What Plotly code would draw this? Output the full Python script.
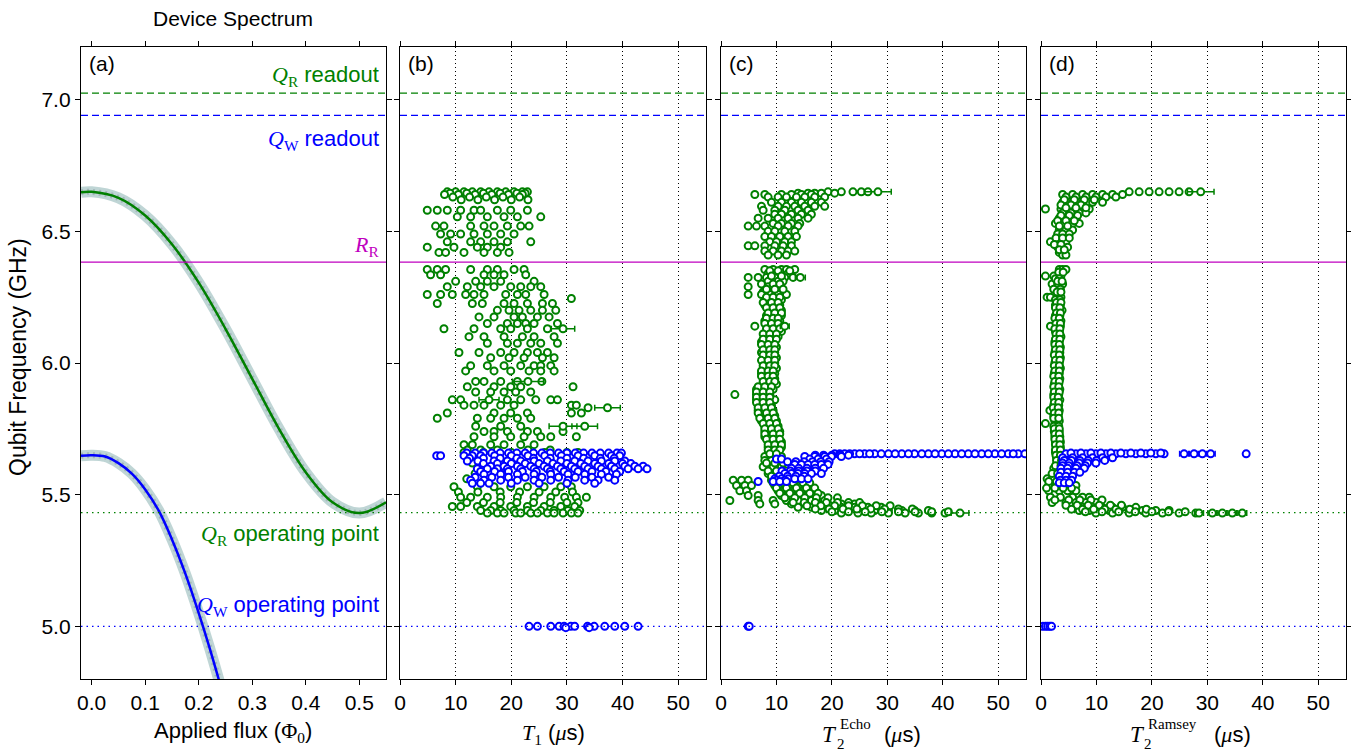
import plotly.graph_objects as go

# ---------------- reference frequencies (GHz) ----------------
QR_READOUT = 7.025
QW_READOUT = 6.94
RR_FREQ = 6.383
QR_OPERATING = 5.432
QW_OPERATING = 5.0

# ---------------- panel (a): spectrum vs flux ----------------
flux_R = [-0.02, 0.0, 0.05, 0.10, 0.15, 0.20, 0.25, 0.30, 0.35, 0.40, 0.45, 0.50, 0.55]
freq_R = [6.648, 6.650, 6.627, 6.560, 6.451, 6.305, 6.130, 5.940, 5.750, 5.585, 5.471, 5.430, 5.471]
flux_W = [-0.02, 0.0, 0.025, 0.05, 0.075, 0.10, 0.125, 0.15, 0.175, 0.20, 0.22, 0.24]
freq_W = [5.648, 5.650, 5.645, 5.620, 5.580, 5.520, 5.440, 5.330, 5.200, 5.050, 4.920, 4.780]

# ---------------- panel (b): T1 (us) ----------------
t1_R_freq = [6.650, 6.645, 6.640, 6.630, 6.620, 6.580, 6.555, 6.520, 6.490, 6.460, 6.440, 6.420,
             6.355, 6.335, 6.310, 6.290, 6.260, 6.245, 6.226, 6.200, 6.175, 6.150, 6.130, 6.100,
             6.075, 6.040, 6.020, 5.990, 5.970, 5.930, 5.910, 5.890, 5.860, 5.840, 5.830, 5.810,
             5.790, 5.760, 5.740, 5.720, 5.690, 5.670, 5.660, 5.620, 5.580, 5.560, 5.530, 5.510,
             5.490, 5.470, 5.455, 5.440, 5.430]
t1_R_vals = [
    [8.5, 10.0, 11.5, 13.0, 14.5, 16.0, 17.5, 19.0, 20.5, 22.0, 22.9],
    [9.0, 12.0, 15.0, 18.0, 21.0, 22.5],
    [8.0, 10.5, 13.5, 16.5, 19.5, 22.0],
    [9.5, 12.5, 15.5, 18.5, 21.5],
    [11.0, 14.0, 17.0, 20.0, 23.0],
    [4.9, 6.7, 8.5, 10.9, 13.3, 14.5, 17.5, 19.9, 22.9],
    [10.3, 12.7, 15.7, 18.7, 21.1, 25.3],
    [6.4, 7.9, 12.7, 15.1, 16.9, 19.3, 21.7, 23.2],
    [7.3, 9.1, 10.9, 13.3, 15.7, 18.1, 20.5],
    [8.5, 12.7, 14.5, 16.9, 19.3, 23.5],
    [4.9, 9.7, 13.9, 15.7, 18.1],
    [7.0, 8.2, 11.5, 15.1, 17.5, 19.6],
    [4.9, 6.7, 8.2, 12.7, 15.7, 17.5, 20.5, 22.3],
    [5.5, 7.3, 15.1, 16.9, 18.7, 22.6],
    [10.0, 13.6, 15.7, 18.1, 24.1],
    [8.5, 12.1, 14.5, 16.9, 19.9, 21.7, 23.5, 25.3],
    [4.9, 7.3, 9.4, 11.8, 13.3, 15.1, 19.0, 21.1, 22.6, 25.9],
    [30.8],
    [6.7, 13.0, 14.8, 18.7, 20.5, 22.9, 25.6, 27.4],
    [17.5, 19.6, 21.4, 23.5, 25.6, 28.0],
    [14.2, 16.9, 20.5, 22.0, 24.7, 26.8],
    [15.7, 19.3, 21.1, 22.6, 24.1, 28.3],
    [7.9, 13.3, 18.1, 19.9, 22.9, 26.5],
    [12.4, 15.1, 18.7, 22.0, 24.1, 27.7],
    [15.7, 19.3, 21.1, 23.5, 25.3, 28.3],
    [10.6, 14.2, 18.1, 20.5, 22.9, 24.7, 26.5],
    [16.3, 19.6, 22.3, 25.6, 27.7],
    [12.7, 15.7, 18.7, 21.7, 24.1, 25.3, 27.1],
    [11.8, 16.9, 19.9, 23.2, 25.3, 27.7],
    [13.6, 15.1, 18.1, 21.1, 25.5],
    [12.1, 16.9, 19.9, 21.7, 31.1],
    [13.6, 16.3, 18.7, 20.8, 23.5],
    [9.4, 10.9, 19.3, 21.7, 24.4, 27.1, 28.3],
    [11.5, 13.3, 15.1, 18.1, 20.5, 30.8, 31.7],
    [33.8],
    [8.5, 16.9, 19.9, 22.9, 30.8, 32.6],
    [6.7, 13.9, 16.3, 18.7, 21.1, 23.5],
    [13.6, 18.1, 21.7],
    [15.1, 16.9, 19.3, 22.9, 24.7, 29.3],
    [13.3, 16.9, 19.9, 22.3, 25.3, 27.1, 31.7],
    [11.5, 13.0, 16.3, 18.7, 21.7, 24.1],
    [12.1, 14.5, 17.5, 23.0, 27.0],
    [11.5, 15.0, 20.0, 26.0, 30.0, 32.0],
    [13.0, 14.5],
    [13.5, 15.0],
    [12.0],
    [9.7, 13.9, 16.9, 19.9, 22.9, 25.9, 28.9, 30.8],
    [10.5, 14.0, 18.0, 21.5, 25.0, 28.0, 31.0],
    [10.9, 12.7, 15.7, 18.1, 21.1, 24.1, 27.1, 29.6, 31.7, 33.5],
    [12.0, 15.0, 18.0, 21.0, 24.0, 27.0, 30.0, 32.0],
    [9.4, 10.9, 13.9, 16.9, 19.9, 22.9, 25.9, 28.9, 31.4],
    [14.5, 16.3, 18.1, 20.5, 22.9, 25.3, 27.7, 30.2, 32.3],
    [15.7, 17.5, 18.7, 20.8, 21.7, 23.5, 24.7, 26.5, 27.7, 29.3, 30.8, 32.0],
]
t1_R_err_freq = [6.130, 5.930, 5.860, 5.830, 5.760, 5.760]
t1_R_err_val = [29.3, 23.0, 16.0, 37.3, 29.3, 33.2]
t1_R_err = [2.1, 2.8, 1.8, 2.3, 2.5, 2.3]

t1_W_freq = [5.658, 5.648, 5.638, 5.628, 5.618, 5.608, 5.598, 5.588, 5.578, 5.566, 5.555, 5.543,
             5.000, 4.995]
t1_W_vals = [
    [12.0, 13.5, 15.0, 16.5, 18.0, 19.5, 21.0, 22.5, 24.0, 25.5, 27.0, 28.5, 30.0, 31.5, 33.0, 34.5, 36.0, 37.5, 39.0, 39.8],
    [6.6, 7.3, 11.5, 13.0, 14.5, 17.0, 20.0, 23.0, 26.0, 29.0, 32.0, 35.0, 38.0, 39.5],
    [12.5, 15.0, 18.0, 21.0, 24.0, 27.0, 30.0, 33.0, 36.0, 38.5],
    [12.1, 14.0, 16.9, 19.3, 21.7, 24.1, 26.5, 28.9, 31.4, 33.8, 36.2, 38.6, 40.4],
    [15.0, 17.5, 20.0, 22.5, 25.0, 27.5, 30.0, 32.5, 35.0, 37.5, 40.0, 41.5],
    [16.3, 18.7, 21.1, 23.5, 25.9, 28.3, 30.8, 33.2, 35.6, 38.0, 40.4, 42.2, 43.7],
    [13.9, 15.7, 17.5, 19.3, 21.7, 24.1, 26.5, 28.9, 31.4, 33.8, 36.2, 38.6, 41.0, 42.8, 44.4],
    [14.5, 17.0, 19.5, 22.0, 24.5, 27.0, 29.5, 32.0, 34.5, 37.0, 39.5],
    [15.1, 18.1, 21.1, 24.1, 27.1, 30.2, 33.2, 36.2, 38.9],
    [13.5, 16.5, 19.5, 22.5, 25.5, 28.5, 31.5, 34.5, 37.5],
    [12.7, 15.1, 18.1, 21.1, 24.1, 27.1, 30.2, 33.2, 35.6, 38.6],
    [13.0, 14.5, 16.0, 20.0, 25.0, 30.0, 35.0],
    [23.2, 24.7, 27.1, 28.6, 29.5, 30.7, 31.4, 33.7, 34.9, 36.8, 38.6, 40.4, 42.8],
    [29.8, 34.0],
]

# ---------------- panel (c): T2 Echo (us) ----------------
t2e_R_freq = [6.650, 6.645, 6.640, 6.630, 6.610, 6.595, 6.580, 6.565, 6.550, 6.530, 6.520, 6.500,
              6.480, 6.460, 6.445, 6.425, 6.410, 6.355, 6.340, 6.325, 6.310, 6.290, 6.270, 6.260,
              6.240, 6.220, 6.200, 6.180, 6.160, 6.140, 6.120, 6.100, 6.080, 6.060, 6.040, 6.020,
              6.000, 5.980, 5.960, 5.940, 5.920, 5.900, 5.880, 5.860, 5.840, 5.820, 5.800, 5.780,
              5.760, 5.740, 5.720, 5.700, 5.680, 5.660, 5.645, 5.630, 5.606, 5.580, 5.555, 5.535,
              5.515, 5.497, 5.478, 5.465, 5.452, 5.440, 5.430,
              6.350, 6.330, 6.300, 6.280, 6.250, 6.230, 6.210, 6.190, 6.170, 6.150, 6.130, 6.110,
              6.090, 6.070, 6.050, 6.030, 6.010, 5.990, 5.970, 5.950, 5.930, 5.910, 5.890, 5.870,
              5.850, 5.830, 5.810, 5.790, 5.770, 5.750, 5.730, 5.710, 5.690, 5.670, 5.655, 5.620,
              5.590, 5.570, 5.545, 5.525, 5.505, 5.488, 5.470, 5.458, 5.446, 5.435]
t2e_R_vals = [
    [19.3, 21.7, 23.8, 25.3, 26.5],
    [13.9, 15.7, 16.9, 18.1, 20.5],
    [6.1, 7.9, 10.9, 12.7, 14.5, 16.3],
    [8.5, 10.3, 11.8, 13.6, 15.1, 16.9, 18.7],
    [9.1, 10.9, 12.7, 14.5, 16.3, 18.1],
    [7.3, 10.3, 11.8, 13.3, 15.1, 16.9, 18.7],
    [7.6, 9.7, 11.5, 13.9, 15.7],
    [9.7, 10.9, 12.7, 14.5, 16.3],
    [6.7, 8.5, 10.3, 12.1, 13.9, 15.7],
    [9.4, 10.9, 12.7, 14.2],
    [4.9, 6.4, 7.9, 10.3, 12.1, 13.9],
    [8.5, 9.7, 11.5, 13.3],
    [7.9, 9.1, 10.6, 12.1, 13.6],
    [8.8, 10.0, 11.5, 12.7],
    [4.9, 6.1, 7.9, 9.7, 11.2, 12.7],
    [7.9, 9.4, 10.9, 12.1, 13.3],
    [8.5, 10.3, 11.8],
    [7.9, 9.4, 10.9, 11.8, 13.3],
    [8.5, 10.3, 12.1],
    [4.9, 6.7, 8.2, 9.7, 11.5, 13.0],
    [8.5, 10.3, 11.2],
    [4.9, 8.5, 10.3],
    [7.6, 9.4, 10.9],
    [4.9, 7.3, 8.8, 10.3, 11.8],
    [8.5, 9.7, 10.9],
    [7.9, 9.4, 10.6],
    [8.8, 10.0, 10.9],
    [8.2, 9.7, 10.9],
    [7.9, 9.1, 10.6],
    [6.1, 8.5, 10.0],
    [8.5, 9.7, 10.9],
    [7.9, 9.1, 10.3],
    [7.3, 8.5, 9.7],
    [7.6, 8.8, 10.0],
    [7.3, 8.5, 9.7],
    [7.9, 9.1, 10.0],
    [7.6, 8.5, 9.7],
    [7.9, 9.1, 10.0],
    [7.3, 8.5, 9.7],
    [7.6, 8.8, 9.7],
    [7.9, 9.1, 10.0],
    [6.4, 7.3, 8.5, 9.4],
    [2.5, 6.4, 7.6, 8.8],
    [6.4, 7.3, 8.5, 9.7],
    [6.7, 7.9, 9.1],
    [6.7, 7.9, 9.4],
    [7.0, 8.5, 9.7],
    [7.3, 8.8, 10.0],
    [7.9, 9.1, 10.3],
    [7.9, 9.4, 10.6],
    [7.9, 9.1, 10.3],
    [8.5, 9.7, 10.9],
    [8.5, 10.0, 10.9],
    [8.8, 10.3],
    [7.9, 9.4, 10.9],
    [7.9, 9.1, 10.9],
    [7.6, 9.4, 10.9, 12.1],
    [8.5, 10.0, 11.5, 13.3],
    [2.2, 3.7, 4.9, 9.1, 10.9, 12.7, 14.5],
    [2.8, 4.3, 5.5, 9.7, 11.5, 13.3, 15.1],
    [3.4, 4.6, 10.3, 12.1, 13.9, 15.7],
    [4.9, 6.7, 10.9, 12.7, 14.5, 16.3, 18.1],
    [1.6, 6.7, 9.4, 11.8, 13.9, 16.3, 18.7],
    [7.0, 9.7, 12.7, 15.1, 17.5, 19.3, 21.7, 24.1],
    [13.9, 16.3, 18.7, 21.7, 24.1, 26.5, 28.9],
    [18.1, 20.5, 22.9, 25.3, 27.7, 30.2, 32.6, 34.9, 37.4],
    [21.7, 24.7, 27.1, 30.2, 33.2, 35.6, 38.0, 40.4],
    [8.8, 10.3, 12.4], [9.1, 10.9], [7.3, 9.4, 10.6], [8.2, 9.7, 11.2], [8.2, 9.4, 10.6],
    [7.6, 9.1, 10.3], [8.2, 9.4, 10.6], [8.5, 9.7, 10.9], [8.2, 9.4, 10.3], [7.9, 9.1, 10.3],
    [8.2, 9.4, 10.6], [7.6, 8.8, 10.0], [7.6, 8.8, 10.0], [7.3, 8.5, 9.7], [7.6, 8.8, 9.7],
    [7.6, 8.8, 9.7], [7.3, 8.5, 9.7], [7.6, 8.8, 9.7], [7.3, 8.5, 9.4], [7.3, 8.5, 9.4],
    [7.6, 8.8, 9.7], [6.7, 7.9, 9.1], [6.4, 7.6, 8.8], [6.4, 7.6, 8.8], [6.4, 7.6, 8.8],
    [6.7, 7.9, 9.1], [6.7, 8.2, 9.4], [7.0, 8.5, 9.7], [7.6, 8.8, 10.0], [7.9, 9.1, 10.3],
    [7.9, 9.4, 10.6], [8.2, 9.4, 10.6], [8.5, 9.7, 10.9], [8.5, 9.7, 10.6], [8.8, 10.0],
    [8.2, 9.7, 11.2], [8.5, 10.0, 11.8, 13.0], [9.1, 10.6, 12.4, 14.2],
    [9.4, 11.2, 13.0, 14.8, 16.0], [10.0, 11.8, 13.6, 15.4, 16.9], [10.6, 12.4, 14.2, 16.0, 17.5],
    [11.5, 13.3, 15.1, 17.2, 19.3, 21.0], [13.0, 15.0, 17.0, 19.0, 21.0, 23.0, 25.0],
    [15.5, 18.0, 20.5, 23.0, 25.5, 28.0, 30.5], [17.0, 19.5, 22.0, 24.5, 27.0, 29.5, 32.0, 34.5],
    [20.0, 23.0, 26.0, 29.0, 32.0, 35.0, 38.0, 41.0],
]
t2e_R_err_freq = [6.650, 6.325, 6.140, 5.430]
t2e_R_err_val = [28.3, 14.3, 11.5, 43.1]
t2e_R_err = [2.4, 0.9, 0.8, 1.6]

t2e_W_freq = [5.655, 5.655, 5.650, 5.645, 5.635, 5.625, 5.615, 5.600, 5.590, 5.580, 5.570, 5.560,
              5.555, 5.550, 5.000]
t2e_W_vals = [
    [20.5, 22.3, 24.1, 25.9, 27.7, 30.2, 32.6, 34.9, 37.4, 39.8, 42.2, 44.6, 47.0, 49.4, 51.8, 53.6, 54.8],
    [21.4, 23.2, 25.0, 26.8, 28.9, 31.4, 33.8, 36.2, 38.6, 41.0, 43.4, 45.8, 48.2, 50.6, 52.7],
    [17.0, 18.5, 20.0, 21.5, 23.0],
    [15.1, 16.9, 18.7, 19.9, 21.7],
    [10.0, 10.9, 16.0, 17.5, 19.0],
    [12.0, 13.5, 15.0, 16.5, 18.0, 19.5],
    [13.3, 14.5, 15.7, 16.9, 18.1, 19.3],
    [12.7, 14.0, 15.5, 17.0, 18.5],
    [11.0, 12.5, 14.0, 15.5, 17.0],
    [11.5, 12.7, 13.9, 15.1, 16.3, 18.1],
    [10.5, 12.0, 13.5, 15.0],
    [9.7, 10.9, 12.1, 13.3, 14.5, 15.7],
    [10.0, 11.5],
    [6.7, 9.4, 10.6, 11.8],
    [4.9, 5.1],
]

# ---------------- panel (d): T2 Ramsey (us) ----------------
t2r_R_freq = [6.650, 6.640, 6.630, 6.610, 6.585, 6.570, 6.550, 6.530, 6.505, 6.490, 6.460, 6.440,
              6.420, 6.410, 6.355, 6.330, 6.300, 6.250, 6.220, 6.200, 6.180, 6.160, 6.140, 6.120,
              6.100, 6.080, 6.060, 6.040, 6.020, 6.000, 5.980, 5.960, 5.940, 5.920, 5.900, 5.880,
              5.860, 5.840, 5.820, 5.800, 5.780, 5.770, 5.760, 5.740, 5.720, 5.700, 5.680, 5.660,
              5.640, 5.620, 5.600, 5.560, 5.535, 5.515, 5.490, 5.470, 5.452, 5.440, 5.430,
              6.620, 6.600, 6.590, 6.560, 6.540, 6.520, 6.475, 6.450, 6.430, 6.345, 6.320, 6.310,
              6.280, 6.270, 6.240, 6.230, 6.210, 6.190, 6.170, 6.150, 6.130, 6.110, 6.090, 6.070,
              6.050, 6.030, 6.010, 5.990, 5.970, 5.950, 5.930, 5.910, 5.890, 5.870, 5.850, 5.830,
              5.810, 5.790, 5.750, 5.730, 5.710, 5.690, 5.670, 5.650, 5.630, 5.610, 5.580, 5.550,
              5.525, 5.480, 5.460, 5.445, 5.435]
t2r_R_vals = [
    [15.9, 17.7, 19.5, 21.3, 23.1, 24.9, 26.7],
    [3.9, 5.7, 7.5, 9.3, 11.1, 12.9, 14.7],
    [4.5, 6.3, 8.1, 9.9, 11.7, 13.5],
    [3.9, 5.7, 7.5, 9.3, 11.1],
    [0.8, 3.6, 5.1, 6.9, 8.7],
    [3.9, 5.4, 6.9, 8.1],
    [3.3, 4.8, 6.3],
    [2.6, 4.2, 5.7, 6.9],
    [3.3, 4.5, 5.7],
    [3.0, 3.9, 5.1],
    [1.7, 3.3, 4.5],
    [3.0, 3.9, 4.8],
    [3.3, 4.2],
    [3.9, 4.5],
    [3.3, 3.9, 4.5],
    [0.8, 2.3, 3.6],
    [2.0, 3.0, 3.9],
    [1.1, 1.7, 3.0, 3.6],
    [2.6, 3.5], [2.9, 3.8], [2.6, 3.4], [2.8, 3.6], [1.7, 2.9, 3.5], [2.6, 3.3],
    [2.8, 3.6], [2.5, 3.3], [2.7, 3.5], [2.5, 3.4], [2.7, 3.5], [2.5, 3.3],
    [2.6, 3.5], [2.4, 3.3], [2.6, 3.4], [2.4, 3.2], [2.6, 3.4], [2.3, 3.2],
    [2.5, 3.4], [2.3, 3.2], [1.6, 2.5, 3.3], [2.3, 3.1], [2.5, 3.3], [0.8],
    [2.3, 3.2], [2.4, 3.3], [2.5, 3.4], [2.6, 3.5], [2.7, 3.5], [2.6, 3.4],
    [2.8, 3.6], [2.9, 3.8], [2.3, 3.5],
    [1.1, 2.0, 3.3, 4.5],
    [1.4, 2.6, 3.9, 5.1, 6.3],
    [1.4, 3.3, 4.8, 6.3],
    [1.7, 3.5, 5.7, 7.5, 8.7],
    [2.0, 4.5, 6.3, 8.1, 9.9],
    [6.3, 7.5, 9.3, 11.1, 12.9, 14.7, 17.1],
    [6.9, 8.7, 10.5, 12.3, 14.1, 15.9, 18.3, 20.7, 23.1],
    [9.9, 12.9, 15.9, 18.9, 21.9, 24.9, 27.9],
    [4.2, 6.0, 7.8, 9.6], [3.6, 5.4, 7.2], [4.5, 6.3, 8.1], [3.6, 5.1, 6.6], [3.0, 4.5, 6.0],
    [3.3, 4.8], [2.7, 3.9, 5.1], [2.4, 3.6], [3.3, 4.2], [3.2, 4.0], [2.6, 3.3], [3.0, 3.8],
    [2.3, 3.5], [2.9, 3.6], [2.6, 3.4], [2.8, 3.6], [2.6, 3.4], [2.8, 3.5], [2.5, 3.3],
    [2.7, 3.5], [2.5, 3.4], [2.7, 3.4], [2.6, 3.4], [2.5, 3.3], [2.6, 3.4], [2.4, 3.3],
    [2.6, 3.4], [2.4, 3.3], [2.5, 3.3], [2.3, 3.2], [2.5, 3.3], [2.3, 3.2], [2.4, 3.3],
    [2.3, 3.1], [2.4, 3.2], [2.2, 3.1], [2.4, 3.2], [2.3, 3.2], [2.4, 3.3], [2.5, 3.3],
    [2.5, 3.4], [2.6, 3.4], [2.6, 3.5], [2.7, 3.5], [2.8, 3.7], [2.6, 3.6], [2.0, 3.0, 4.0],
    [1.4, 2.8, 4.0], [1.0, 2.5, 4.0, 5.5], [2.5, 5.0, 7.0, 9.0, 11.0],
    [4.5, 6.5, 8.5, 10.5, 12.5, 14.5], [5.5, 7.5, 9.5, 11.5, 13.5, 16.0, 19.0],
    [8.0, 11.0, 14.0, 17.0, 20.0, 23.0, 26.0],
]
t2r_R_err_freq = [6.650, 5.430, 5.430, 5.430, 5.430, 5.430]
t2r_R_err_val = [28.8, 28.5, 30.9, 32.7, 34.5, 36.3]
t2r_R_err = [2.4, 0.8, 0.8, 0.8, 0.8, 0.8]

t2r_W_freq = [5.655, 5.658, 5.640, 5.630, 5.620, 5.610, 5.600, 5.585, 5.570, 5.555, 5.545, 5.000]
t2r_W_vals = [
    [4.5, 6.3, 8.1, 9.9, 11.7, 13.5, 15.3, 17.1, 18.9, 20.7, 22.2],
    [5.4, 7.2, 9.0, 10.8, 12.6, 14.4, 16.2, 18.0, 19.8, 21.6],
    [3.9, 5.7, 7.5, 9.3, 11.1, 12.9],
    [4.2, 5.5, 7.0, 8.5, 10.0, 11.5],
    [3.9, 5.1, 6.9, 8.4, 9.9],
    [3.9, 5.0, 6.5, 8.0],
    [3.6, 4.8, 6.3, 7.8],
    [3.6, 4.8, 6.0, 7.0],
    [3.3, 4.5, 5.7],
    [3.5, 4.5, 5.5],
    [3.3, 4.2, 5.1],
    [0.3, 0.8, 1.2, 1.6, 1.9],
]
t2r_W_err_freq = [5.655, 5.655, 5.655, 5.655, 5.655]
t2r_W_err_val = [25.8, 27.6, 29.1, 30.6, 37.0]
t2r_W_err = [0.8, 0.8, 1.0, 0.8, 0.4]

x_ticks_flux = [0.0, 0.1, 0.2, 0.3, 0.4, 0.5]
x_ticks_time = [0, 10, 20, 30, 40, 50]
y_ticks = [5.0, 5.5, 6.0, 6.5, 7.0]

# ---------------- styling ----------------
GREEN = "#008000"
BLUE = "#0000ff"
MAGENTA = "#bf00bf"
FONT = "Liberation Sans, Arial, Helvetica, sans-serif"
SERIF = "Liberation Serif, Times New Roman, serif"
W, H = 1351, 754
PLOT_TOP, PLOT_BOT = 47, 679
PANELS_PX = [(81, 386), (400, 706), (721, 1026), (1041, 1346)]


def expand(freqs, rows):
    xs, ys = [], []
    for f, row in zip(freqs, rows):
        for v in row:
            xs.append(v)
            ys.append(f)
    return xs, ys


def serif(s):
    return f"<span style=\"font-family:{SERIF}\">{s}</span>"


def mtxt(sym, sub):
    return serif(f"<i>{sym}</i><sub>{sub}</sub>")


fig = go.Figure()

# panel (a)
for fx, fy, col in [(flux_R, freq_R, GREEN), (flux_W, freq_W, BLUE)]:
    fig.add_trace(go.Scatter(x=fx, y=fy, mode="lines", xaxis="x", yaxis="y",
                             line=dict(color="rgba(180,206,206,0.85)", width=11, shape="spline"),
                             showlegend=False, hoverinfo="skip"))
    fig.add_trace(go.Scatter(x=fx, y=fy, mode="lines", xaxis="x", yaxis="y",
                             line=dict(color="rgba(110,130,135,0.35)", width=6, shape="spline", dash="2px,4px"),
                             showlegend=False, hoverinfo="skip"))
    fig.add_trace(go.Scatter(x=fx, y=fy, mode="lines", xaxis="x", yaxis="y",
                             line=dict(color=col, width=2.5, shape="spline"),
                             showlegend=False))


def add_points(xs, ys, col, ax, err=None):
    tr = dict(x=xs, y=ys, mode="markers", xaxis="x" + ax, yaxis="y" + ax,
              marker=dict(symbol="circle", size=7, color="white", line=dict(color=col, width=2)),
              showlegend=False, cliponaxis=True)
    if err is not None:
        tr["error_x"] = dict(type="data", array=err, color=col, thickness=1.5, width=3)
    fig.add_trace(go.Scatter(**tr))


panel_data = [
    ("2", (t1_R_freq, t1_R_vals), (t1_R_err_freq, t1_R_err_val, t1_R_err),
     (t1_W_freq, t1_W_vals), None),
    ("3", (t2e_R_freq, t2e_R_vals), (t2e_R_err_freq, t2e_R_err_val, t2e_R_err),
     (t2e_W_freq, t2e_W_vals), None),
    ("4", (t2r_R_freq, t2r_R_vals), (t2r_R_err_freq, t2r_R_err_val, t2r_R_err),
     (t2r_W_freq, t2r_W_vals), (t2r_W_err_freq, t2r_W_err_val, t2r_W_err)),
]
for ax, rdat, rerr, wdat, werr in panel_data:
    xs, ys = expand(*rdat)
    add_points(xs, ys, GREEN, ax)
    add_points(rerr[1], rerr[0], GREEN, ax, err=rerr[2])
    xs, ys = expand(*wdat)
    add_points(xs, ys, BLUE, ax)
    if werr is not None:
        add_points(werr[1], werr[0], BLUE, ax, err=werr[2])

# reference lines in every panel
shapes = []
for i in range(4):
    xr = "x domain" if i == 0 else f"x{i + 1} domain"
    yr = "y" if i == 0 else f"y{i + 1}"
    for yv, col, dash in [(QR_READOUT, GREEN, "7px,4px"), (QW_READOUT, BLUE, "7px,4px"),
                          (RR_FREQ, MAGENTA, "solid"), (QR_OPERATING, GREEN, "1.5px,4px"),
                          (QW_OPERATING, BLUE, "1.5px,4px")]:
        shapes.append(dict(type="line", xref=xr, yref=yr, x0=0, x1=1, y0=yv, y1=yv,
                           line=dict(color=col, width=1.3, dash=dash), layer="above"))

layout = dict(width=W, height=H, margin=dict(l=0, r=0, t=0, b=0, autoexpand=False),
              paper_bgcolor="white", plot_bgcolor="white",
              font=dict(family=FONT, size=21, color="black"), shapes=shapes, showlegend=False)

ydom = [1 - PLOT_BOT / H, 1 - PLOT_TOP / H]
axis_common = dict(showline=True, linecolor="black", linewidth=1.3, mirror="ticks",
                   ticks="outside", ticklen=5, tickwidth=1, tickcolor="black",
                   zeroline=False, tickfont=dict(family=FONT, size=21, color="black"))
for i, (p0, p1) in enumerate(PANELS_PX):
    n = "" if i == 0 else str(i + 1)
    xa = dict(axis_common, domain=[p0 / W, p1 / W], anchor="y" + n)
    if i == 0:
        xa.update(range=[-0.02, 0.55], tickvals=x_ticks_flux,
                  ticktext=[f"{v:.1f}" for v in x_ticks_flux], showgrid=False)
    else:
        xa.update(range=[0, 55], tickvals=x_ticks_time, ticktext=[str(v) for v in x_ticks_time],
                  showgrid=True, gridcolor="black", gridwidth=1, griddash="1px,3px")
    ya = dict(axis_common, domain=ydom, anchor="x" + n, range=[4.8, 7.2],
              tickvals=y_ticks, ticktext=[f"{v:.1f}" for v in y_ticks], showgrid=False,
              showticklabels=(i == 0))
    layout["xaxis" + n] = xa
    layout["yaxis" + n] = ya

fig.update_layout(**layout)

ann = []


def px_ann(text, x, y, size=22, color="black", xanchor="center", **kw):
    d = dict(text=text, x=x / W, y=1 - y / H, xref="paper", yref="paper", showarrow=False,
             xanchor=xanchor, yanchor="middle",
             font=dict(family=FONT, size=size, color=color))
    d.update(kw)
    ann.append(d)


px_ann("Device Spectrum", 233, 19, size=21)
px_ann("Qubit Frequency (GHz)", 18, 357, size=23, textangle=-90)
px_ann("Applied flux (" + serif("Φ<sub>0</sub>") + ")", 233, 732, size=22)

MU_S = "(" + serif("<i>μ</i>") + "s)"
# panel (b) x title: T_1 (us)
px_ann(serif("<i>T</i><sub>1</sub>") + " " + MU_S, 553, 734, size=22)
# panel (c) x title: T_2^Echo (us)
px_ann(serif("<i>T</i>"), 830, 734, size=23)
px_ann(serif("2"), 835, 744, size=15, xanchor="left")
px_ann(serif("Echo"), 838, 724, size=15, xanchor="left")
px_ann(MU_S, 882, 734, size=22, xanchor="left")
# panel (d) x title: T_2^Ramsey (us)
px_ann(serif("<i>T</i>"), 1137, 734, size=23)
px_ann(serif("2"), 1142, 744, size=15, xanchor="left")
px_ann(serif("Ramsey"), 1146, 724, size=15, xanchor="left")
px_ann(MU_S, 1212, 734, size=22, xanchor="left")

for lab, (p0, p1) in zip(["(a)", "(b)", "(c)", "(d)"], PANELS_PX):
    px_ann(lab, p0 + 6, 64, size=21, xanchor="left")

px_ann(mtxt("Q", "R") + " readout", 381, 76, xanchor="right", color=GREEN)
px_ann(mtxt("Q", "W") + " readout", 381, 140, xanchor="right", color=BLUE)
px_ann(mtxt("R", "R"), 381, 246, xanchor="right", color=MAGENTA)
px_ann(mtxt("Q", "R") + " operating point", 381, 535, xanchor="right", color=GREEN)
px_ann(mtxt("Q", "W") + " operating point", 381, 606, xanchor="right", color=BLUE)

fig.update_layout(annotations=ann)
fig.write_html("out.html", config={"displayModeBar": False},
               post_script="document.body.style.margin='0px';")
